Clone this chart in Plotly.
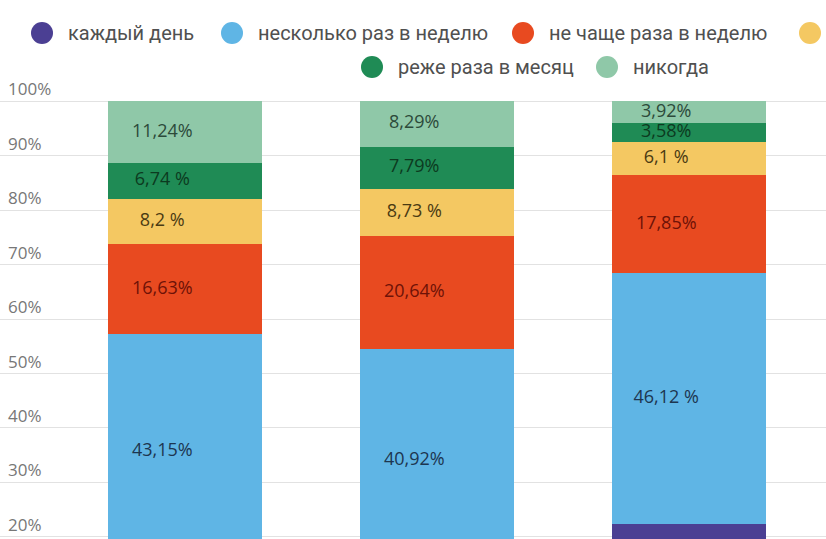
import plotly.graph_objects as go

# bars (category names are cut off in the source picture)
groups = ['A', 'B', 'C']

series_names = ['каждый день', 'несколько раз в неделю', 'не чаще раза в неделю',
                'раз в месяц', 'реже раза в месяц', 'никогда']

every_day = [14.04, 13.63, 22.43]
few_times_week = [43.15, 40.92, 46.12]
once_week = [16.63, 20.64, 17.85]
once_month = [8.2, 8.73, 6.1]
rarer_month = [6.74, 7.79, 3.58]
never = [11.24, 8.29, 3.92]

every_day_txt = ['', '', '']
few_times_week_txt = ['43,15%', '40,92%', '46,12 %']
once_week_txt = ['16,63%', '20,64%', '17,85%']
once_month_txt = ['8,2 %', '8,73 %', '6,1 %']
rarer_month_txt = ['6,74 %', '7,79%', '3,58%']
never_txt = ['11,24%', '8,29%', '3,92%']

y_ticks = [20, 30, 40, 50, 60, 70, 80, 90, 100]
y_tick_labels = ['20%', '30%', '40%', '50%', '60%', '70%', '80%', '90%', '100%']

values = [every_day, few_times_week, once_week, once_month, rarer_month, never]
texts = [every_day_txt, few_times_week_txt, once_week_txt, once_month_txt, rarer_month_txt, never_txt]
colors = ['#4b3f93', '#5fb5e5', '#e84a20', '#f4c862', '#1f8b55', '#8fc8a8']
text_colors = ['#ffffff', '#1d3650', '#6e1207', '#4a3a12', '#0c3a20', '#2c4a3a']

W, H = 826, 539
PX_PER_PCT = 5.448
Y_MIN = 19.6
Y_MAX = 110
TOP = round(101 - (Y_MAX - 100) * PX_PER_PCT)   # keeps 100% at y=101
LABEL_SHIFT = -0.09                              # labels sit a bit left of bar centre

pos = list(range(len(groups)))

fig = go.Figure()
base = [0.0] * len(groups)
for name, vals, txt, col, tcol in zip(series_names, values, texts, colors, text_colors):
    fig.add_trace(go.Bar(
        x=pos,
        y=vals,
        name=name,
        marker_color=col,
        marker_line_width=0,
        hoverinfo='skip',
        showlegend=False,
    ))
    mids = [b + v / 2 for b, v in zip(base, vals)]
    fig.add_trace(go.Scatter(
        x=[p + LABEL_SHIFT for p in pos],
        y=mids,
        mode='text',
        text=txt,
        textposition='middle center',
        textfont=dict(family='Open Sans', size=18, color=tcol),
        hoverinfo='skip',
        showlegend=False,
        cliponaxis=False,
    ))
    base = [b + v for b, v in zip(base, vals)]

# hand-made legend: two centred rows, first row runs past the right edge
legend_pos = [(42, 33), (232, 33), (523, 33), (810, 33), (372, 67), (607, 67)]
plot_h = H - TOP
for name, col, (cx, cy) in zip(series_names, colors, legend_pos):
    px = cx / W
    py = (H - cy) / plot_h
    fig.add_shape(type='circle', xref='paper', yref='paper',
                  xsizemode='pixel', ysizemode='pixel',
                  xanchor=px, yanchor=py, x0=-11, x1=11, y0=-11, y1=11,
                  fillcolor=col, line_width=0)
    fig.add_annotation(text=name, xref='paper', yref='paper',
                       x=(cx + 24) / W, y=py, xanchor='left', yanchor='middle',
                       showarrow=False,
                       font=dict(family='Roboto', size=20, color='#505050'))

fig.update_layout(
    template='plotly_white',
    width=W, height=H,
    barmode='stack',
    bargap=0.39,
    margin=dict(l=0, r=0, t=TOP, b=0),
    paper_bgcolor='white',
    plot_bgcolor='white',
)
fig.update_xaxes(range=[-0.734, 2.544], tickvals=pos, ticktext=groups,
                 showticklabels=False, showgrid=False, zeroline=False, showline=False)
fig.update_yaxes(range=[Y_MIN, Y_MAX], tickvals=y_ticks, ticktext=y_tick_labels,
                 ticklabelposition='inside top', ticklabelstandoff=5,
                 showgrid=True, gridcolor='#e2e2e2',
                 gridwidth=1, zeroline=False, showline=False,
                 tickfont=dict(family='Open Sans', size=17, color='#777777'))

fig.write_html('out.html', config={'displayModeBar': False},
               post_script="document.body.style.margin='0';")
